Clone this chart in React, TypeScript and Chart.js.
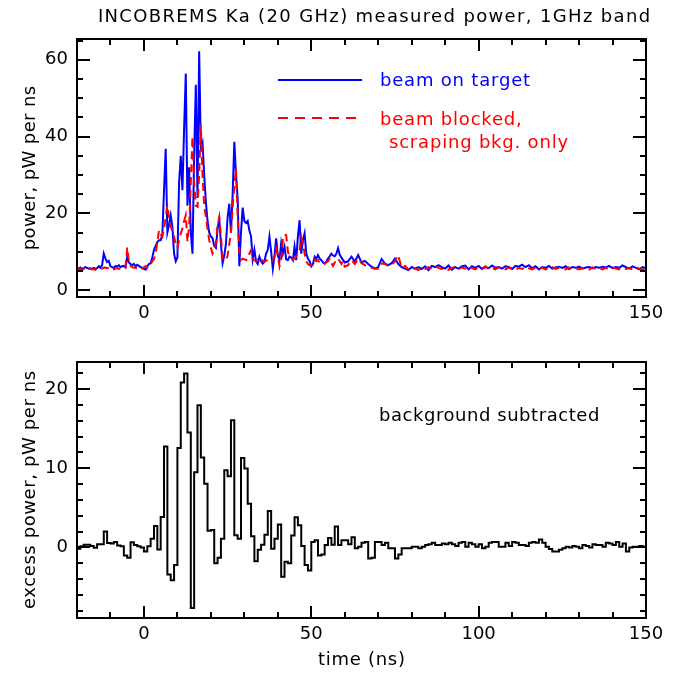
import { useEffect, useRef } from "react";
import { Chart, registerables } from "chart.js";

Chart.register(...registerables);

const FONT = '"DejaVu Sans", sans-serif';
const TEXT_SIZE = 18;

// Sample times (ns): 0.5 ns steps through the pulse, 1 ns steps in the tail.
const fineTimes = Array.from({ length: 161 }, (_, i) => -20 + i * 0.5);
const tailTimes = Array.from({ length: 90 }, (_, i) => 61 + i);
const powerTimes = [...fineTimes, ...tailTimes];

// Measured power, pW per ns — beam on target
const beamOnTarget = [
  5.8, 5.6, 5.9, 5.5, 5.7, 6.0, 5.8, 5.6, 5.7, 5.5,
  5.8, 5.6, 5.7, 6.2, 5.8, 6.5, 9.5, 8.2, 7.3, 7.6,
  6.2, 6.0, 5.8, 6.3, 6.1, 6.5, 6.0, 6.2, 6.3, 5.9,
  8.7, 7.2, 6.8, 6.5, 6.8, 6.2, 6.6, 6.3, 6.0, 5.8,
  5.5, 5.3, 6.2, 6.8, 7.0, 8.5, 10.5, 11.5, 12.5, 13.0,
  13.0, 14.5, 26.0, 36.8, 15.0, 17.0, 19.5, 16.5, 9.5, 7.5,
  8.5, 28.0, 35.0, 26.0, 42.0, 56.4, 22.0, 32.0, 15.0, 9.5,
  35.0, 53.5, 24.0, 62.2, 37.0, 38.4, 30.0, 23.0, 18.0, 15.0,
  14.0, 13.5, 11.5, 11.0, 16.0, 18.5, 12.0, 7.0, 9.0, 12.0,
  19.0, 22.5, 15.0, 25.0, 38.6, 30.0, 24.0, 6.2, 15.0, 21.5,
  18.0, 17.5, 18.0, 15.5, 14.0, 8.0, 10.5, 7.5, 6.8, 8.7,
  7.5, 6.9, 7.5, 9.5, 10.5, 13.9, 10.0, 5.6, 9.0, 13.5,
  9.0, 7.8, 12.2, 9.5, 11.3, 8.0, 7.8, 8.7, 8.5, 7.8,
  11.3, 7.8, 14.0, 18.2, 9.5, 13.0, 14.8, 9.5, 8.2, 7.5,
  6.2, 6.8, 8.7, 8.2, 9.1, 8.2, 7.8, 7.2, 6.9, 7.5,
  8.2, 8.8, 9.5, 9.0, 8.8, 9.5, 10.9, 9.2, 8.5, 7.8,
  7.2,
  7.5, 8.7, 7.4, 9.1, 7.2, 7.6, 6.8, 6.1, 5.6, 6.0,
  8.1, 6.9, 6.5, 7.0, 8.2, 6.8, 6.0, 5.6, 5.2, 6.0,
  5.6, 6.0, 5.5, 6.2, 5.2, 6.3, 6.0, 6.5, 6.0, 5.6,
  6.4, 5.3, 6.0, 5.6, 6.2, 6.4, 5.4, 6.2, 5.8, 6.3,
  5.5, 6.0, 5.7, 6.4, 5.8, 6.0, 5.6, 6.2, 6.0, 5.5,
  6.3, 6.1, 6.6, 6.0, 6.5, 5.7, 6.2, 5.4, 6.0, 5.8,
  6.3, 5.6, 5.9, 6.1, 5.8, 6.2, 5.5, 6.0, 5.8, 6.1,
  5.6, 5.9, 6.0, 5.7, 6.0, 5.8, 6.1, 5.9, 6.3, 5.7,
  6.0, 5.8, 6.4, 6.0, 5.6, 6.2, 5.8, 5.4, 6.0, 5.7,
];

// Measured power, pW per ns — beam blocked (scraping background only)
const beamBlocked = [
  5.6, 5.4, 5.5, 5.3, 5.5, 5.6, 5.4, 5.5, 5.6, 5.4,
  5.5, 5.3, 5.6, 5.5, 5.7, 5.6, 5.8, 5.9, 5.7, 5.8,
  5.5, 5.6, 5.4, 5.6, 5.8, 5.5, 5.7, 5.5, 5.6, 5.8,
  11.1, 7.5, 6.3, 6.0, 5.8, 5.9, 5.6, 5.5, 5.7, 5.6,
  6.0, 6.2, 5.8, 6.5, 6.8, 7.5, 8.0, 9.5, 12.5, 15.6,
  14.5, 13.9, 16.0, 19.0, 22.0, 19.0, 16.5, 15.5, 13.9, 12.0,
  11.0, 13.0, 14.8, 16.0, 18.0, 19.5, 12.6, 16.5, 28.0, 40.0,
  28.0, 22.0, 21.7, 30.0, 43.0, 30.0, 22.0, 19.0, 16.0, 13.0,
  11.0, 9.5, 10.5, 12.2, 17.0, 19.0, 14.3, 8.2, 7.8, 7.8,
  9.0, 12.0, 15.0, 21.7, 27.0, 31.7, 19.0, 10.0, 7.8, 8.2,
  8.0, 7.8, 8.2, 9.5, 10.4, 8.0, 7.8, 7.5, 8.0, 7.8,
  8.2, 7.6, 7.3, 7.8, 7.6, 7.2, 7.4, 7.8, 8.5, 10.9,
  9.0, 6.2, 8.0, 13.0, 14.5, 14.3, 10.0, 9.0, 8.5, 8.0,
  8.2, 8.8, 9.5, 10.5, 13.9, 12.2, 9.5, 7.5, 6.8, 6.5,
  6.5, 7.8, 8.0, 7.5, 7.8, 7.2, 7.0, 6.8, 6.9, 7.2,
  7.5, 8.2, 7.0, 6.3, 7.2, 8.0, 8.2, 7.5, 6.8, 7.6,
  6.1,
  6.5, 7.8, 6.8, 8.2, 7.0, 6.5, 6.0, 5.8, 5.6, 5.5,
  6.9, 6.8, 6.3, 6.5, 7.5, 9.1, 5.6, 6.3, 5.4, 5.8,
  5.6, 5.2, 5.9, 5.5, 6.0, 5.6, 6.2, 5.8, 5.5, 5.9,
  5.3, 5.8, 6.1, 5.5, 5.9, 5.6, 6.3, 5.7, 5.4, 5.9,
  5.6, 6.2, 5.5, 5.8, 5.4, 6.0, 5.7, 5.4, 5.9, 5.6,
  5.3, 5.8, 5.5, 6.1, 5.7, 5.4, 5.9, 5.6, 5.8, 5.4,
  5.7, 6.0, 5.5, 5.8, 5.6, 5.4, 5.9, 5.5, 5.7, 5.4,
  5.8, 5.6, 5.3, 5.9, 5.5, 5.7, 5.4, 5.8, 5.5, 5.9,
  5.6, 5.4, 5.7, 5.5, 5.8, 5.4, 5.9, 5.6, 5.3, 5.8,
];

// 1 ns bins from -20 to 150 ns; value = excess power, pW per ns
const binStarts = Array.from({ length: 170 }, (_, i) => -20 + i);
const binEnd = 150;
const excessPower = [
  -0.15, 0.15, 0.35, 0.35, 0.2, -0.05, 0.4, 0.4, 2.0, 0.55,
  0.5, 0.7, 0.25, 0.15, -1.0, -1.3, 0.65, 0.3, 0.15, 0.0,
  -0.5, 0.15, 1.1, 2.7, -0.25, 3.85, 12.75, -3.4, -4.15, -2.2,
  12.55, 20.8, 21.95, 14.5, -7.65, 9.5, 17.95, 11.35, 8.05, 2.1,
  2.2, -2.0, -1.3, 1.1, 9.75, 9.0, 16.05, 1.55, 1.1, 11.3,
  9.95, 5.5, 1.4, -1.75, -0.3, 0.35, 1.6, 4.6, -0.15, 1.1,
  2.9, -3.7, -1.8, -2.0, 1.5, 3.8, 2.8, 0.2, -2.2, -2.9,
  0.7, 0.9, -1.0, -0.9, 0.3, 1.2, 0.35, 2.65, 0.3, 0.9,
  0.9, 0.4, 1.3, -0.1, 0.1, 0.6, 0.7, -1.4, -1.3, 0.7,
  0.7, 0.3, 0.6, -0.1, -0.1, -1.4, -0.9, -0.1, -0.1, -0.1,
  0.1, 0.1, -0.1, 0.1, 0.3, 0.4, 0.6, 0.3, 0.3, 0.5,
  0.4, 0.6, 0.4, 0.2, 0.6, 0.7, 0.1, 0.6, 0.4, 0.1,
  0.4, -0.1, 0.1, 0.6, 0.7, 0.7, 0.1, 0.1, 0.6, 0.2,
  0.7, 0.6, 0.3, 0.3, 0.2, 0.6, 0.7, 0.6, 1.0, 0.6,
  0.1, -0.2, -0.5, -0.5, -0.3, -0.1, 0.1, 0.0, 0.2, 0.1,
  -0.1, 0.3, 0.2, 0.0, 0.4, 0.3, 0.3, 0.1, 0.6, 0.5,
  0.3, 0.7, 0.1, 0.5, -0.5, 0.0, 0.1, 0.1, 0.2, 0.1,
];

const TIME_RANGE = { min: -20, max: 150 };
const TIME_MINOR = 10;
const TIME_MAJOR = 50;

const font = (size = TEXT_SIZE) => `${size}px ${FONT}`;

// Box frame with inward-pointing ticks on all four sides, as in IDL plots.
function frameTicks(yMajor: number) {
  return {
    id: "frameTicks",
    afterDatasetsDraw(chart: any) {
      const { ctx, chartArea: a, scales } = chart;
      const x = scales.x;
      const y = scales.y;
      ctx.save();
      ctx.strokeStyle = "#000";
      ctx.lineWidth = 2;
      ctx.lineCap = "butt";
      ctx.beginPath();
      for (const t of x.ticks) {
        const px = Math.round(x.getPixelForValue(t.value));
        const len = Math.abs(t.value % TIME_MAJOR) < 1e-6 ? 12 : 6;
        ctx.moveTo(px, a.bottom);
        ctx.lineTo(px, a.bottom - len);
        ctx.moveTo(px, a.top);
        ctx.lineTo(px, a.top + len);
      }
      for (const t of y.ticks) {
        const py = Math.round(y.getPixelForValue(t.value));
        const len = Math.abs(t.value % yMajor) < 1e-6 ? 13 : 6;
        ctx.moveTo(a.left, py);
        ctx.lineTo(a.left + len, py);
        ctx.moveTo(a.right, py);
        ctx.lineTo(a.right - len, py);
      }
      ctx.stroke();
      ctx.strokeRect(a.left, a.top, a.right - a.left, a.bottom - a.top);
      ctx.restore();
    },
  };
}

function spacedText(
  ctx: any,
  text: string,
  x: number,
  y: number,
  spacing: number,
  align: "left" | "center"
) {
  ctx.save();
  ctx.letterSpacing = `${spacing}px`;
  ctx.textAlign = "left";
  ctx.textBaseline = "middle";
  const w = ctx.measureText(text).width - spacing;
  ctx.fillText(text, align === "center" ? x - w / 2 : x, y);
  ctx.restore();
}

function verticalText(ctx: any, text: string, x: number, y: number, spacing: number) {
  ctx.save();
  ctx.translate(x, y);
  ctx.rotate(-Math.PI / 2);
  spacedText(ctx, text, 0, 0, spacing, "center");
  ctx.restore();
}

const topLabels = {
  id: "topLabels",
  afterDraw(chart: any) {
    const { ctx, chartArea: a } = chart;
    ctx.save();
    ctx.font = font();
    ctx.fillStyle = "#000";
    spacedText(ctx, "INCOBREMS Ka (20 GHz) measured power, 1GHz band", 374, 17, 1.35, "center");
    verticalText(ctx, "power, pW per ns", 30, (a.top + a.bottom) / 2, 0.4);

    // legend
    ctx.lineWidth = 2;
    ctx.strokeStyle = "#0000ff";
    ctx.beginPath();
    ctx.moveTo(278, 80);
    ctx.lineTo(362, 80);
    ctx.stroke();
    ctx.strokeStyle = "#ff0000";
    ctx.setLineDash([10, 7]);
    ctx.beginPath();
    ctx.moveTo(278, 118);
    ctx.lineTo(362, 118);
    ctx.stroke();
    ctx.setLineDash([]);

    ctx.fillStyle = "#0000ff";
    spacedText(ctx, "beam on target", 380, 81, 0.8, "left");
    ctx.fillStyle = "#ff0000";
    spacedText(ctx, "beam blocked,", 380, 120, 0.8, "left");
    spacedText(ctx, "scraping bkg. only", 389, 143, 0.8, "left");
    ctx.restore();
  },
};

const bottomLabels = {
  id: "bottomLabels",
  afterDraw(chart: any) {
    const { ctx, chartArea: a } = chart;
    ctx.save();
    ctx.font = font();
    ctx.fillStyle = "#000";
    verticalText(ctx, "excess power, pW per ns", 30, (a.top + a.bottom) / 2, 0.6);
    spacedText(ctx, "time (ns)", (a.left + a.right) / 2, 323, 0.7, "center");
    spacedText(ctx, "background subtracted", 379, 79, 0.55, "left");
    ctx.restore();
  },
};

function timeAxis(height: number) {
  return {
    type: "linear" as const,
    min: TIME_RANGE.min,
    max: TIME_RANGE.max,
    grid: { display: false, drawTicks: false },
    border: { display: false },
    ticks: {
      stepSize: TIME_MINOR,
      autoSkip: false,
      maxRotation: 0,
      padding: 6,
      color: "#000",
      font: { family: FONT, size: TEXT_SIZE },
      callback: (v: any) => (Math.abs(Number(v) % TIME_MAJOR) < 1e-6 ? String(v) : ""),
    },
    afterFit: (s: any) => {
      s.height = height;
    },
  };
}

function valueAxis(min: number, max: number, minor: number, major: number) {
  return {
    type: "linear" as const,
    min,
    max,
    grid: { display: false, drawTicks: false },
    border: { display: false },
    ticks: {
      stepSize: minor,
      includeBounds: false,
      autoSkip: false,
      padding: 9,
      color: "#000",
      font: { family: FONT, size: TEXT_SIZE },
      callback: (v: any) => (Math.abs(Number(v) % major) < 1e-6 ? String(v) : ""),
    },
    afterFit: (s: any) => {
      s.width = 77;
    },
  };
}

const baseOptions = {
  animation: false as const,
  responsive: false,
  maintainAspectRatio: false,
  events: [] as any[],
  plugins: {
    legend: { display: false },
    tooltip: { enabled: false },
    title: { display: false },
  },
};

export default function App() {
  const topRef = useRef<HTMLCanvasElement>(null);
  const bottomRef = useRef<HTMLCanvasElement>(null);

  useEffect(() => {
    if (!topRef.current || !bottomRef.current) return;

    const top = new Chart(topRef.current, {
      type: "line",
      data: {
        datasets: [
          {
            label: "beam on target",
            data: powerTimes.map((t, i) => ({ x: t, y: beamOnTarget[i] })),
            borderColor: "#0000ff",
            borderWidth: 2,
            pointRadius: 0,
            tension: 0,
            order: 1,
          },
          {
            label: "beam blocked, scraping bkg. only",
            data: powerTimes.map((t, i) => ({ x: t, y: beamBlocked[i] })),
            borderColor: "#ff0000",
            borderWidth: 2,
            borderDash: [8, 5],
            pointRadius: 0,
            tension: 0,
            order: 0,
          },
        ],
      },
      options: {
        ...baseOptions,
        layout: { padding: { top: 39, right: 32, left: 0, bottom: 0 } },
        scales: {
          x: timeAxis(40),
          y: valueAxis(-1.8, 65.4, 5, 20),
        },
      } as any,
      plugins: [frameTicks(20), topLabels],
    });

    const histPoints = binStarts.map((t, i) => ({ x: t, y: excessPower[i] }));
    histPoints.push({ x: binEnd, y: excessPower[excessPower.length - 1] });

    const bottom = new Chart(bottomRef.current, {
      type: "line",
      data: {
        datasets: [
          {
            label: "background subtracted",
            data: histPoints,
            borderColor: "#000",
            borderWidth: 2,
            pointRadius: 0,
            stepped: "before",
          },
        ],
      },
      options: {
        ...baseOptions,
        layout: { padding: { top: 25, right: 32, left: 0, bottom: 0 } },
        scales: {
          x: timeAxis(57),
          y: valueAxis(-8.9, 23.4, 2, 10),
        },
      } as any,
      plugins: [frameTicks(10), bottomLabels],
    });

    return () => {
      top.destroy();
      bottom.destroy();
    };
  }, []);

  return (
    <div
      style={{
        position: "absolute",
        left: 0,
        top: 0,
        width: 678,
        height: 675,
        background: "#fff",
      }}
    >
      <canvas
        ref={topRef}
        width={678}
        height={337}
        style={{ position: "absolute", left: 0, top: 0, display: "block" }}
      />
      <canvas
        ref={bottomRef}
        width={678}
        height={338}
        style={{ position: "absolute", left: 0, top: 337, display: "block" }}
      />
    </div>
  );
}
